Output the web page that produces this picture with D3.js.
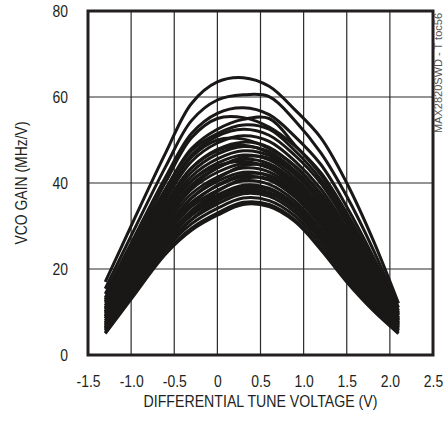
<!DOCTYPE html>
<html><head><meta charset="utf-8">
<script src="https://cdnjs.cloudflare.com/ajax/libs/d3/7.8.5/d3.min.js"></script>
<style>
html,body{margin:0;padding:0;background:#fff;}
text{font-family:"Liberation Sans Narrow","Arial Narrow","Liberation Sans",Arial,sans-serif;}
</style></head>
<body>
<svg id="chart" width="443" height="421"></svg>
<script>
// Tune voltage sample points (V)
const tuneVoltage = [-1.3, -1.0, -0.6, -0.3, 0, 0.3, 0.6, 0.9, 1.2, 1.5, 1.8, 2.1];
// VCO gain curves (MHz/V), one per band setting
const curve01 = [17, 30, 47, 58.5, 63.5, 64.5, 62.5, 57, 50.5, 40, 27, 12];
const curve02 = [15.4, 27.7, 43.8, 54.5, 59.3, 60.5, 60.1, 54.5, 47, 36.9, 24.8, 11];
const curve03 = [14.2, 26, 41.4, 51.5, 56.2, 57.5, 55.9, 50.8, 44.3, 34.5, 23.1, 10.3];
const curve04 = [13.3, 24.8, 40.2, 50.5, 55, 55.2, 53, 48.6, 42.4, 33, 22, 9.9];
const curve05 = [12.9, 24.2, 38.6, 48, 52.5, 54.8, 55, 48.8, 41.9, 32.2, 21.4, 9.6];
const curve06 = [12.1, 23.1, 37.4, 46.5, 50.9, 52.5, 51.1, 46.4, 39.9, 30.6, 20.3, 9.2];
const curve07 = [11.5, 22.2, 36.2, 45, 49.3, 51, 49.7, 45.1, 38.6, 29.5, 19.4, 8.8];
const curve08 = [10.9, 21.4, 35.1, 43.5, 47.8, 49.5, 48.3, 43.8, 37.3, 28.3, 18.6, 8.4];
const curve09 = [10.5, 20.8, 34.3, 42.5, 46.7, 48.5, 47.3, 42.9, 36.4, 27.5, 18.1, 8.2];
const curve10 = [10.1, 20.2, 33.5, 41.5, 45.6, 47.5, 46.4, 42, 35.5, 26.8, 17.5, 8];
const curve11 = [9.7, 19.6, 32.7, 40.5, 44.6, 46.5, 45.4, 41.1, 34.6, 26, 16.9, 7.7];
const curve12 = [9.3, 19.1, 31.9, 39.5, 43.5, 45.5, 44.5, 40.3, 33.8, 25.2, 16.4, 7.5];
const curve13 = [8.9, 18.5, 31.1, 38.5, 42.5, 44.5, 43.5, 39.4, 32.9, 24.4, 15.8, 7.3];
const curve14 = [8.5, 17.9, 30.3, 37.5, 41.4, 43.5, 42.6, 38.5, 32, 23.6, 15.3, 7];
const curve15 = [8, 17.3, 29.5, 36.5, 40.4, 42.5, 41.6, 37.6, 31.1, 22.8, 14.7, 6.8];
const curve16 = [7.6, 16.7, 28.7, 35.5, 39.3, 41.5, 40.7, 36.7, 30.2, 22.1, 14.1, 6.5];
const curve17 = [7.2, 16.2, 27.9, 34.5, 38.3, 40.5, 39.7, 35.8, 29.3, 21.3, 13.6, 6.3];
const curve18 = [6.8, 15.6, 27.1, 33.5, 37.2, 39.5, 38.8, 35, 28.5, 20.5, 13, 6.1];
const curve19 = [6.4, 15, 26.3, 32.5, 36.2, 38.5, 37.8, 34.1, 27.6, 19.7, 12.5, 5.8];
const curve20 = [6, 14.4, 25.5, 31.5, 35.1, 37.5, 36.9, 33.2, 26.7, 19, 11.9, 5.6];
const curve21 = [5.6, 13.9, 24.7, 30.5, 34.1, 36.5, 35.9, 32.3, 25.8, 18.2, 11.3, 5.4];
const curve22 = [5.2, 13.3, 23.9, 29.5, 33, 35.5, 35, 31.4, 24.9, 17.4, 10.8, 5.1];
const curve23 = [5, 13, 23.5, 29, 32.5, 35, 34.5, 31, 24.5, 17, 10.5, 5];
const curve24 = [8.5, 18, 31, 39, 43.5, 46, 45.8, 42, 35.5, 26.5, 17, 7.6];
const curve25 = [9, 19.5, 33, 40.5, 44, 45, 43.5, 39, 32.5, 24, 15.5, 7];
const curve26 = [7.5, 16.5, 29, 36.5, 41, 44, 44, 40, 33.5, 25, 16, 7.2];
const curve27 = [7, 16, 28, 35, 39.5, 42, 41.8, 38, 31.5, 23, 14.5, 6.6];
const curve28 = [6.5, 15, 26.5, 33.5, 38, 41, 41, 37, 30.5, 22, 14, 6.4];
const curve29 = [6.2, 14.8, 26, 32.8, 36.8, 39, 38.5, 34.8, 28.3, 20.3, 12.8, 6];
const curve30 = [5.8, 14, 25, 31.5, 35.8, 38, 37.5, 34, 27.5, 19.5, 12.2, 5.7];
const curve31 = [10, 21, 35, 43.5, 47.5, 48.8, 47, 42.5, 36, 27.2, 17.8, 8.1];
const curve32 = [11, 22.5, 37, 46, 50, 50.2, 48, 44, 37.5, 28.8, 19, 8.6];
const curve33 = [12.5, 24, 38.5, 47.5, 51.5, 53.5, 52.5, 47.5, 40.8, 31.4, 20.8, 9.4];
const gainCurves = [curve01, curve02, curve03, curve04, curve05, curve06, curve07, curve08,
  curve09, curve10, curve11, curve12, curve13, curve14, curve15, curve16, curve17, curve18,
  curve19, curve20, curve21, curve22, curve23, curve24, curve25, curve26, curve27, curve28,
  curve29, curve30, curve31, curve32, curve33];

const xTicks = [-1.5, -1.0, -0.5, 0, 0.5, 1.0, 1.5, 2.0, 2.5];
const yTicks = [0, 20, 40, 60, 80];
const xTitle = "DIFFERENTIAL TUNE VOLTAGE (V)";
const yTitle = "VCO GAIN (MHz/V)";
const noteText = "MAX2820SWD - T toc56";

const svg = d3.select("#chart");
const L = 88, R = 433, T = 11, B = 355;
const SX = 0.82; // condensed text
const x = d3.scaleLinear().domain([-1.5, 2.5]).range([L, R]);
const y = d3.scaleLinear().domain([0, 80]).range([B, T]);

// grid
const grid = svg.append("g").attr("stroke", "#2a2a2a").attr("stroke-width", 1.2);
grid.selectAll("line.v").data(xTicks.slice(1, -1)).join("line")
  .attr("x1", d => x(d)).attr("x2", d => x(d)).attr("y1", T).attr("y2", B);
grid.selectAll("line.h").data(yTicks.slice(1, -1)).join("line")
  .attr("x1", L).attr("x2", R).attr("y1", d => y(d)).attr("y2", d => y(d));

// clip
svg.append("clipPath").attr("id", "clip").append("rect")
  .attr("x", L).attr("y", T).attr("width", R - L).attr("height", B - T);

const line = d3.line()
  .x((d, i) => x(tuneVoltage[i]))
  .y(d => y(d))
  .curve(d3.curveCatmullRom.alpha(0.5));

svg.append("g").attr("clip-path", "url(#clip)")
  .selectAll("path").data(gainCurves).join("path")
  .attr("d", line).attr("fill", "none").attr("stroke", "#1a1717")
  .attr("stroke-width", 3).attr("stroke-linejoin", "round");

// frame
svg.append("rect").attr("x", L).attr("y", T).attr("width", R - L).attr("height", B - T)
  .attr("fill", "none").attr("stroke", "#231f20").attr("stroke-width", 3);

// axes labels
const xAxis = d3.axisBottom(x).tickValues(xTicks)
  .tickFormat(d => d === 0 ? "0" : d3.format(".1f")(d).replace("\u2212", "-")).tickSize(0).tickPadding(20);
const gx = svg.append("g").attr("transform", `translate(0,${B})`).call(xAxis);
gx.select(".domain").remove();
gx.selectAll("text").attr("font-size", 17).attr("fill", "#231f20")
  .attr("transform", `scale(${SX},1)`)
  .style("font-family", '"Liberation Sans",Arial,sans-serif');

const yAxis = d3.axisLeft(y).tickValues(yTicks).tickSize(0);
const gy = svg.append("g").attr("transform", `translate(${L},0)`).call(yAxis);
gy.select(".domain").remove();
gy.selectAll("text").attr("font-size", 17).attr("fill", "#231f20")
  .attr("x", -20 / SX).attr("transform", `scale(${SX},1)`)
  .style("font-family", '"Liberation Sans",Arial,sans-serif');

svg.append("text").attr("x", (L + R) / 2).attr("y", 407).attr("text-anchor", "middle")
  .attr("font-size", 17).attr("fill", "#231f20")
  .attr("textLength", 234).attr("lengthAdjust", "spacingAndGlyphs").text(xTitle);
svg.append("text").attr("transform", `translate(27,${(T + B) / 2}) rotate(-90) scale(${SX},1)`)
  .attr("text-anchor", "middle").attr("font-size", 17).attr("fill", "#231f20").text(yTitle);
svg.append("text").attr("transform", `translate(442,13) rotate(-90)`)
  .attr("text-anchor", "end").attr("font-size", 10).attr("fill", "#555")
  .attr("textLength", 120).attr("lengthAdjust", "spacingAndGlyphs").text(noteText);
</script>
</body></html>
